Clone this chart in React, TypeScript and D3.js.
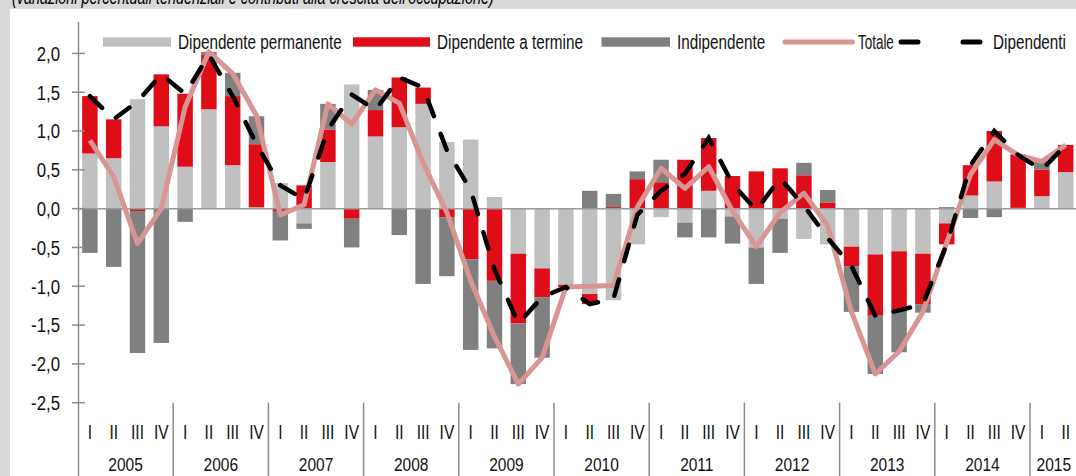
import React, { useEffect, useRef } from "react";
import * as d3 from "d3";

// quarterly data 2005 Q1 - 2015 Q2
const years = ["2005", "2006", "2007", "2008", "2009", "2010", "2011", "2012", "2013", "2014", "2015"];
const quarterLabels = ["I", "II", "III", "IV"];

const permanente = [
  0.71, 0.65, 1.41, 1.06,
  0.54, 1.28, 0.56, 0.02,
  0.33, -0.19, 0.6, 1.6,
  0.93, 1.05, 1.35, 0.86,
  0.89, 0.15, -0.58, -0.77,
  -0.98, -1.1, -1.18, -0.46,
  -0.11, -0.18, 0.23, -0.1,
  -0.5, -0.13, -0.39, -0.46,
  -0.49, -0.59, -0.55, -0.58,
  -0.19, 0.17, 0.35, 0.01,
  0.16, 0.47,
];

const termine = [
  0.74, 0.5, -0.03, 0.67,
  0.94, 0.7, 0.89, 0.81,
  -0.03, 0.3, 0.42, -0.13,
  0.34, 0.64, 0.21, -0.11,
  -0.65, -0.93, -0.9, -0.37,
  -0.03, -0.13, 0.02, 0.38,
  0.34, 0.63, 0.68, 0.42,
  0.48, 0.52, 0.43, 0.08,
  -0.25, -0.79, -0.76, -0.65,
  -0.27, 0.39, 0.65, 0.69,
  0.34, 0.35,
];

const indipendente = [
  -0.57, -0.75, -1.83, -1.73,
  -0.17, 0.04, 0.3, 0.36,
  -0.38, -0.07, 0.33, -0.37,
  0.26, -0.34, -0.97, -0.76,
  -1.17, -0.87, -0.78, -0.78,
  0.0, 0.23, 0.17, 0.1,
  0.29, -0.19, -0.37, -0.35,
  -0.47, -0.44, 0.16, 0.16,
  -0.59, -0.75, -0.54, -0.11,
  0.02, -0.12, -0.11, 0.0,
  0.11, 0.0,
];

const totale = [
  0.88, 0.41, -0.45, 0.0,
  1.31, 2.02, 1.74, 1.2,
  -0.08, 0.05, 1.35, 1.09,
  1.53, 1.36, 0.59, -0.05,
  -0.93, -1.65, -2.26, -1.92,
  -1.01, -1.0, -0.99, 0.02,
  0.52, 0.26, 0.54, -0.03,
  -0.49, -0.05, 0.2, -0.22,
  -1.33, -2.13, -1.84, -1.33,
  -0.44, 0.44, 0.89, 0.69,
  0.61, 0.82,
];

const dipendenti = [
  1.45, 1.15, 1.38, 1.73,
  1.48, 1.98, 1.45, 0.83,
  0.3, 0.12, 1.02, 1.47,
  1.27, 1.69, 1.56, 0.75,
  0.24, -0.78, -1.48, -1.14,
  -1.01, -1.23, -1.16, -0.08,
  0.23, 0.45, 0.91, 0.32,
  -0.02, 0.39, 0.04, -0.38,
  -0.74, -1.38, -1.31, -1.23,
  -0.46, 0.56, 1.0, 0.69,
  0.5, 0.82,
];

const yTicks = [2.0, 1.5, 1.0, 0.5, 0.0, -0.5, -1.0, -1.5, -2.0, -2.5];

const seriesKeys = ["permanente", "termine", "indipendente"];
const seriesColors = ["#c0c0c0", "#df0d18", "#808080"];

const App = () => {
  const chartRef = useRef(null);

  useEffect(() => {
    const width = 1076;
    const height = 476;
    const font = "'Liberation Sans', Arial, sans-serif";
    const fontSize = 16;
    // the original picture is stretched vertically: tall, slightly narrow text
    const squeeze = (x, y, sx = 0.97, sy = 1.28) => `translate(${x},${y}) scale(${sx},${sy})`;

    const svg = d3.select(chartRef.current);
    svg.selectAll("*").remove();

    // background + white panel
    svg.append("rect").attr("width", width).attr("height", height).attr("fill", "#d9d9d9");
    svg
      .append("text")
      .attr("transform", squeeze(12, 4, 0.9, 1.28))
      .attr("font-family", font)
      .attr("font-size", fontSize)
      .attr("font-style", "italic")
      .text("(variazioni percentuali tendenziali e contributi alla crescita dell'occupazione)");
    svg.append("rect").attr("x", 10).attr("y", 9).attr("width", width).attr("height", height).attr("fill", "#fff");

    const n = totale.length;
    const data = d3.range(n).map((i) => ({
      i,
      permanente: permanente[i],
      termine: termine[i],
      indipendente: indipendente[i],
    }));

    const xScale = d3
      .scaleBand(d3.range(n), [78, 1077.6])
      .paddingInner(0.35)
      .paddingOuter(0.175);
    const yScale = d3.scaleLinear([-2.5, 2.0], [402.7, 53.4]);
    const step = xScale.step();
    const bw = xScale.bandwidth();
    const cx = (i) => xScale(i) + bw / 2;
    const boundary = (i) => xScale(i) - (step - bw) / 2;

    const stacked = d3.stack().keys(seriesKeys).offset(d3.stackOffsetDiverging)(data);

    // bars
    svg
      .append("g")
      .selectAll("g")
      .data(stacked)
      .join("g")
      .attr("fill", (d, k) => seriesColors[k])
      .selectAll("rect")
      .data((d) => d)
      .join("rect")
      .attr("x", (d) => xScale(d.data.i))
      .attr("y", (d) => yScale(Math.max(d[0], d[1])))
      .attr("width", bw)
      .attr("height", (d) => Math.abs(yScale(d[0]) - yScale(d[1])));

    // zero line
    svg
      .append("line")
      .attr("x1", 78)
      .attr("x2", width)
      .attr("y1", yScale(0))
      .attr("y2", yScale(0))
      .attr("stroke", "#9a9a9a")
      .attr("stroke-width", 1.5);

    // y axis
    const axisColor = "#8c8c8c";
    svg
      .append("line")
      .attr("x1", 78.5)
      .attr("x2", 78.5)
      .attr("y1", 22)
      .attr("y2", height)
      .attr("stroke", axisColor)
      .attr("stroke-width", 1.5);
    const yAxis = svg.append("g").attr("font-family", font).attr("font-size", fontSize);
    yAxis
      .selectAll("line")
      .data(yTicks)
      .join("line")
      .attr("x1", 72)
      .attr("x2", 85)
      .attr("y1", (d) => yScale(d))
      .attr("y2", (d) => yScale(d))
      .attr("stroke", axisColor)
      .attr("stroke-width", 1.5);
    yAxis
      .selectAll("text")
      .data(yTicks)
      .join("text")
      .attr("transform", (d) => squeeze(60, yScale(d), 1.05, 1.28))
      .attr("dy", "0.36em")
      .attr("text-anchor", "end")
      .attr("fill", "#111")
      .text((d) => d3.format(".1f")(d).replace(".", ",").replace("−", "-"));

    // x axis: quarter labels, year labels, year separators
    const xAxis = svg.append("g").attr("font-family", font).attr("font-size", fontSize).attr("fill", "#111");
    xAxis
      .selectAll("text.q")
      .data(d3.range(n))
      .join("text")
      .attr("class", "q")
      .attr("transform", (i) => squeeze(cx(i), 438.5))
      .attr("text-anchor", "middle")
      .text((i) => quarterLabels[i % 4]);
    xAxis
      .selectAll("text.y")
      .data(years)
      .join("text")
      .attr("class", "y")
      .attr("transform", (d, k) => {
        const first = k * 4;
        const last = Math.min(first + 3, n - 1);
        return squeeze((boundary(first) + boundary(last) + step) / 2, 471, 0.97, 1.2);
      })
      .attr("text-anchor", "middle")
      .text((d) => d);
    const seps = years.map((d, k) => k * 4).filter((i) => i > 0);
    seps.push(n);
    xAxis
      .selectAll("line")
      .data(seps)
      .join("line")
      .attr("x1", (i) => (i < n ? boundary(i) : boundary(n - 1) + step))
      .attr("x2", (i) => (i < n ? boundary(i) : boundary(n - 1) + step))
      .attr("y1", 402.7)
      .attr("y2", height)
      .attr("stroke", axisColor)
      .attr("stroke-width", 1.5);

    // lines
    const line = d3
      .line()
      .x((d, i) => cx(i))
      .y((d) => yScale(d));

    svg
      .append("path")
      .datum(totale)
      .attr("d", line)
      .attr("fill", "none")
      .attr("stroke", "#d99594")
      .attr("stroke-width", 5)
      .attr("stroke-linejoin", "round");

    svg
      .append("path")
      .datum(dipendenti)
      .attr("d", line)
      .attr("fill", "none")
      .attr("stroke", "#000")
      .attr("stroke-width", 4.5)
      .attr("stroke-dasharray", "17,19")
      .attr("stroke-linecap", "round");

    // legend
    const legend = svg.append("g").attr("font-family", font).attr("font-size", fontSize).attr("fill", "#111");
    const legendY = 42;
    const textY = legendY + 6.5;
    const lsx = 0.955;
    const rectItems = [
      { x: 103, w: 68, tx: 178, label: "Dipendente permanente", color: seriesColors[0] },
      { x: 353, w: 77, tx: 437, label: "Dipendente a termine", color: seriesColors[1] },
      { x: 601.5, w: 68.5, tx: 677, label: "Indipendente", color: seriesColors[2] },
    ];
    rectItems.forEach((it) => {
      legend
        .append("rect")
        .attr("x", it.x)
        .attr("y", legendY - 4.7)
        .attr("width", it.w)
        .attr("height", 9.4)
        .attr("fill", it.color);
      legend.append("text").attr("transform", squeeze(it.tx, textY, lsx)).text(it.label);
    });
    legend
      .append("line")
      .attr("x1", 785)
      .attr("x2", 852.5)
      .attr("y1", legendY)
      .attr("y2", legendY)
      .attr("stroke", "#d99594")
      .attr("stroke-width", 5)
      .attr("stroke-linecap", "round");
    legend.append("text").attr("transform", squeeze(858, textY, 0.84)).text("Totale");
    legend
      .append("line")
      .attr("x1", 901)
      .attr("x2", 981.5)
      .attr("y1", legendY)
      .attr("y2", legendY)
      .attr("stroke", "#000")
      .attr("stroke-width", 5)
      .attr("stroke-dasharray", "17,45")
      .attr("stroke-linecap", "round");
    legend.append("text").attr("transform", squeeze(993, textY, lsx)).text("Dipendenti");
  }, []);

  return (
    <svg
      ref={chartRef}
      width={1076}
      height={476}
      style={{ position: "absolute", left: 0, top: 0, display: "block" }}
    ></svg>
  );
};

export default App;
